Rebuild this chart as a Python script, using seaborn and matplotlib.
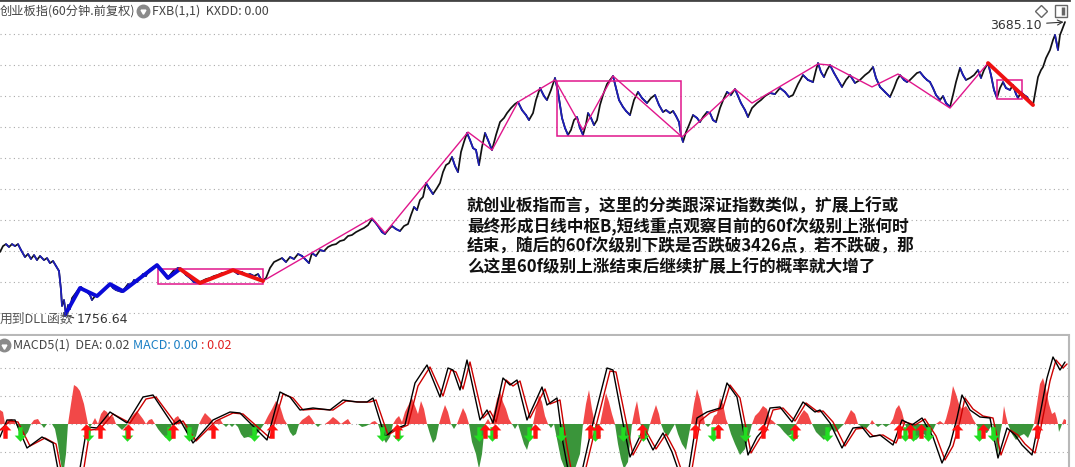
import numpy as np
import pandas as pd
import matplotlib
matplotlib.use("Agg")
import matplotlib.pyplot as plt
from matplotlib.patches import Rectangle
from matplotlib.path import Path
import seaborn as sns

sns.set_theme(style="white")
plt.rcParams["font.family"] = ["Noto Sans CJK SC", "DejaVu Sans"]
plt.rcParams["axes.unicode_minus"] = False

# ---------------- data: 60-minute ChiNext index ----------------
bars = [0,3,6,9,12,15,18,21,25,28,31,34,37,40,44,47,50,53,56,59,61,62,64,66,68,70,72,75,78,81,
        84,87,90,92,95,98,101,104,107,110,113,116,119,122,125,128,131,134,137,140,143,146,149,152,155,158,161,164,167,170,
        174,178,182,186,190,194,198,202,206,210,214,218,222,226,230,234,238,242,246,250,254,258,262,
        266,270,274,278,282,286,290,294,298,302,306,309,312,316,320,324,328,332,336,340,
        344,348,352,356,360,364,368,372,375,378,382,385,389,392,396,400,404,408,411,414,
        417,420,423,426,429,433,437,440,443,446,449,452,455,458,461,464,467,470,473,476,
        479,482,485,488,492,496,500,
        504,507,511,515,518,522,526,529,533,536,540,544,547,551,555,558,560,562,565,568,
        571,574,577,580,583,586,588,591,594,597,600,603,607,610,613,616,619,623,626,630,
        634,638,642,647,651,655,659,663,666,670,673,676,679,681,683,686,689,693,697,700,
        703,707,710,713,716,720,724,727,731,735,738,741,745,748,752,757,761,765,770,775,
        780,785,789,793,798,803,808,813,816,818,821,824,827,830,834,838,842,846,850,855,
        860,865,869,873,876,880,885,890,894,897,900,904,907,910,914,917,920,924,927,930,
        933,936,940,943,946,950,953,956,960,963,966,970,974,978,981,984,988,991,994,997,
        1000,1003,1006,1010,1013,1016,1018,1021,1024,1027,1030,1033,1036,1038,1041,1043,1046,1050,1053,1055,
        1057,1058,1060,1062,1065]
close = [2172,2211,2224,2205,2224,2211,2224,2185,2139,2159,2126,2152,2119,2146,2119,2132,2099,2113,2080,2047,
         1922,1817,1856,1757,1823,1797,1869,1895,1922,1942,1922,1909,1889,1856,1882,1882,1902,1922,1942,1961,
         1935,1922,1915,1909,1935,1961,1955,1988,1974,2001,2027,2014,2053,2067,2080,2080,2053,2040,2001,2021,
         2053,2067,2053,2021,2001,1974,1968,1981,1994,2001,2014,2021,2034,2034,2053,2047,2027,2040,2021,2027,
         2014,2027,1981,
         2001,2067,2106,2119,2132,2106,2139,2126,2159,2146,2119,2099,2165,2146,2185,2178,2205,2218,2224,2244,
         2251,2277,2284,2303,2317,2330,2349,2389,2369,2343,2303,2290,2323,2343,2323,2310,2343,2356,2415,2468,
         2448,2514,2534,2626,2593,2553,2593,2626,2698,2744,2757,2797,2738,2698,2830,2896,2955,2909,2856,2843,
         2744,2863,2955,2909,2843,2942,3027,
         3054,3086,3119,3146,3159,3106,3073,3040,3086,3172,3251,3198,3172,3238,3317,3225,3139,3054,2988,2942,
         2975,3040,3060,2988,2942,3014,3086,3054,3007,3040,3139,3205,3277,3304,3330,3251,3172,3126,3100,3073,
         3172,3225,3185,3152,3185,3205,3139,3093,3106,3086,3100,3067,3027,2942,2896,2961,3007,3073,3054,3027,
         3060,3093,3086,3040,3027,3119,3185,3225,3205,3244,3198,3152,3106,3060,3119,3152,3172,3198,3218,3211,
         3251,3225,3192,3205,3277,3336,3304,3290,3369,3415,3356,3323,3369,3402,3350,3304,3258,3304,3336,3284,
         3304,3336,3356,3389,3317,3258,3225,3192,3251,3304,3336,3304,3290,3304,3330,3350,3356,3323,3304,3290,
         3251,3205,3172,3198,3152,3126,3205,3290,3383,3336,3304,3317,3336,3369,3317,3369,3415,3336,3238,3185,
         3251,3290,3251,3238,3271,3211,3185,3225,3205,3192,3159,3139,3251,3323,3369,3389,3448,3501,3567,3600,
         3534,3501,3600,3633,3685.10]

# zigzag stroke line (magenta)
zz_bar = [263, 372, 385, 468, 492, 518, 555, 583, 613, 682, 710, 735, 752, 818, 830, 872, 898, 950, 988]
zz_price = [1981, 2396, 2297, 2961, 2843, 3159, 3304, 2975, 3330, 2929, 3093, 3244, 3152, 3409, 3402, 3258, 3343, 3119, 3415]
# thick blue strokes
blue_bar = [65, 80, 97, 110, 123, 157, 168, 180]
blue_price = [1757, 1935, 1882, 1961, 1915, 2086, 2001, 2060]
# thick red strokes
red_bar = [180, 200, 233, 263]
red_price = [2060, 1968, 2053, 1981]
red2_bar = [988, 1033]
red2_price = [3415, 3139]
# pivot boxes: (bar_left, bar_right, price_low, price_high)
boxes = [(158, 263, 1961, 2060), (557, 681, 2935, 3297), (997, 1022, 3179, 3304)]
grid_top = [3606, 3402, 3198, 2994, 2790, 2586, 2382, 2178, 1974, 1770]

# MACD panel
hist_points = [(0,1.4),(3,1.2),(5,0),(8,0.4),(12,0.5),(16,0),(20,-1.0),(25,-1.2),(28,-0.8),(31,0),(34,0.4),(38,0.5),(41,0),
 (44,-0.4),(47,0),(52,0),(55,-0.5),(58,-2.0),(60,-3.5),(62,-4.5),(64,-4.5),(66,-3.0),(68,0),(71,2.0),(74,3.9),(77,3.7),
 (80,3.3),(84,2.0),(87,0.5),(88,0),(90,-0.3),(92,0),(95,0.6),(98,0),(101,1.0),(104,1.4),(107,1.2),(110,0.6),(113,0.8),
 (116,0),(119,-0.3),(122,-0.6),(125,-0.3),(128,0),(131,0.6),(134,1.0),(137,1.3),(140,0.9),(143,0.5),(146,0),(149,0.4),
 (152,0.5),(155,0),(158,-0.5),(162,-1.0),(166,-1.4),(169,-1.0),(172,0),(175,0.6),(178,0.8),(181,0.3),(184,0),(187,-1.0),
 (190,-1.5),(193,-1.7),(196,-1.2),(199,0),(202,0.6),(205,1.1),(208,0.8),(211,0.5),(214,0),(217,0.3),(220,0.5),(223,0),
 (226,-0.3),(229,0),(232,-0.3),(235,0),(238,-0.3),(241,-1.0),(244,-1.4),(248,-1.3),(252,-1.4),(256,-1.1),(260,-0.6),
 (264,0),(268,0.8),(272,1.5),(276,2.3),(280,1.8),(284,0.5),(287,0),(290,-0.8),(293,-1.2),(296,-1.0),(299,0),(302,0.4),
 (305,0.6),(309,0.9),(312,0.5),(315,0),(318,-0.3),(321,0),(325,0),(329,0.3),(333,0.7),(337,0.4),(341,0),(345,0.3),
 (348,0.5),(351,0),(355,0),(358,0),(362,-0.3),(366,-0.2),(370,0),(372,0.2),(375,0.3),(378,0),(382,-1.2),(386,-1.9),
 (390,-1.3),(393,0),(396,0.5),(399,0.8),(402,0.2),(405,1.2),(409,2.0),(412,2.6),(415,1.8),(418,1.0),(421,2.3),(424,1.5),
 (427,0),(430,-1.0),(433,-1.9),(436,-1.5),(439,0),(442,1.0),(445,1.9),(448,1.2),(451,0),(454,-0.5),(457,0),(460,0.8),
 (463,1.6),(466,1.0),(469,0),(472,-1.8),(476,-3.0),(479,-4.5),(482,-3.0),(485,0),(488,0.5),(491,0),(494,1.2),(497,2.5),
 (500,3.3),(503,2.2),(506,1.5),(509,0.5),(512,0),(515,-0.5),(518,0),(521,-1.0),(524,-2.0),(527,-2.6),(530,-1.5),(533,0),
 (536,1.5),(539,2.9),(542,2.2),(545,0.8),(548,0),(551,-0.4),(554,0),(557,-1.5),(561,-3.5),(565,-4.5),(570,-4.5),
 (575,-4.5),(580,-3.0),(583,0),(586,2.0),(589,3.4),(592,1.5),(595,0),(597,-0.5),(600,0),(603,1.5),(606,3.1),(609,2.2),
 (612,1.0),(615,0),(618,-2.0),(621,-3.5),(624,-4.5),(628,-3.8),(632,0),(635,1.5),(637,2.3),(640,0.5),(642,-1.0),
 (645,-1.6),(648,-0.8),(650,0),(653,1.0),(656,1.9),(659,1.0),(661,0),(664,-0.8),(668,-1.2),(672,-0.5),(675,0),(678,-1.0),
 (682,-2.0),(686,-2.6),(689,-1.0),(691,0),(694,2.0),(697,3.5),(700,2.5),(703,1.0),(705,0),(708,-0.3),(711,0),(714,0.8),
 (717,1.0),(720,2.6),(723,2.0),(726,0.5),(728,0),(731,-1.0),(735,-2.0),(740,-3.1),(745,-2.5),(749,-1.2),(752,0),
 (755,0.8),(759,1.2),(763,1.8),(767,1.5),(770,0.5),(773,0.3),(776,0),(780,-0.3),(784,-0.8),(788,-1.2),(792,-1.0),
 (796,0),(800,0.8),(804,1.4),(808,1.0),(812,0),(816,-0.8),(820,-1.2),(824,-1.6),(828,-1.0),(832,-0.5),(836,-0.8),
 (840,-0.4),(844,0),(848,0.8),(851,1.4),(855,1.0),(858,0),(862,-0.3),(866,-0.5),(870,0),(872,0.4),(875,0),(878,-0.3),
 (882,0),(886,-0.3),(890,0),(893,0.5),(896,1.5),(899,1.9),(902,1.2),(905,0),(908,-0.8),(912,-1.4),(916,-1.6),(920,-1.2),
 (924,-1.0),(928,-1.6),(932,-0.8),(936,0),(940,0.3),(944,0),(946,0.5),(950,2.0),(953,3.8),(956,3.0),(959,2.0),(962,1.5),
 (966,1.8),(970,1.2),(973,0.5),(976,0),(979,-0.5),(983,-0.8),(987,-0.9),(990,-0.4),(993,0),(996,-2.0),(998,-3.2),
 (1000,-1.0),(1002,0),(1004,1.8),(1006,0.8),(1008,0),(1012,-1.0),(1016,-1.6),(1020,-1.2),(1024,-1.0),(1028,-1.4),
 (1032,-0.5),(1034,0),(1037,2.0),(1040,4.0),(1043,4.6),(1046,3.5),(1049,2.0),(1052,1.0),(1055,1.2),(1057,0.5),(1058,0),
 (1059,-0.8),(1061,-0.3),(1062,0),(1064,0.5),(1066,0.4)]

dif_bar = [0,7,15,27,42,53,60,78,87,97,110,127,143,153,173,180,193,213,230,240,267,280,290,300,313,330,343,357,367,373,
           385,393,405,415,427,440,448,453,460,467,480,487,493,503,510,517,527,542,547,557,563,570,580,592,607,613,623,630,643,653,
           663,672,680,688,697,707,720,727,737,748,757,763,770,780,792,803,815,820,830,842,853,862,870,880,893,902,912,922,933,942,
           950,957,962,970,980,990,998,1007,1015,1022,1032,1037,1047,1053,1060,1065]
dif_val = [-1.3,0.4,0.4,-2.4,-1.3,-1.9,-5.6,-5.6,-0.3,-0.4,1.2,0.1,2.7,2.9,-0.1,0.4,-1.9,0.4,1.2,1.1,
           -1.6,3.2,2.7,1.4,1.6,1.4,2.4,2.2,2.2,2.6,-1.3,-0.6,-0.1,4.1,5.9,2.7,5.6,5.4,3.4,6.4,
           0.4,1.4,0.1,4.6,3.9,4.4,0.4,3.7,1.9,2.6,-1.9,-5.6,-5.6,-0.3,5.6,5.4,0.1,-3.3,-0.6,-2.6,
           -0.9,-2.8,-5.1,-5.1,0.6,1.2,1.6,4.1,2.7,-3.1,-1.3,-0.6,1.6,1.7,0.2,2.2,1.2,1.4,0.1,-2.4,
           -0.4,-0.3,-1.3,-1.1,-2.1,0.4,-0.1,0.6,-1.3,-3.9,-2.1,0.6,2.9,1.4,0.7,0.6,-3.4,-0.4,-1.1,-2.1,
           -3.1,-0.6,4.6,6.7,5.4,6.2]
dea_bar = [0,10,18,30,45,56,63,82,90,100,113,130,146,156,176,183,196,216,233,243,270,283,293,303,316,333,346,360,370,376,
           388,396,408,418,430,443,451,456,463,470,483,490,496,506,513,520,530,545,550,560,566,573,583,595,610,616,626,633,646,656,
           666,675,683,691,700,710,723,730,740,751,760,766,773,783,795,806,818,823,833,845,856,865,873,883,896,905,915,925,936,945,
           953,960,965,973,983,993,1001,1010,1018,1025,1035,1040,1050,1056,1063,1067]
dea_val = [-0.6,0.3,0.2,-2.2,-1.4,-2.0,-5.6,-5.6,-0.6,-0.5,1.0,0.1,2.5,2.7,0.0,0.3,-1.7,0.3,1.1,1.0,
           -1.4,3.0,2.6,1.4,1.5,1.4,2.3,2.2,2.2,2.4,-1.1,-0.6,-0.1,3.8,5.7,2.8,5.4,5.2,3.5,6.2,
           0.6,1.3,0.2,4.4,3.8,4.3,0.6,3.5,2.0,2.4,-1.7,-5.6,-5.6,-0.6,5.3,5.2,0.3,-3.1,-0.7,-2.5,
           -1.0,-2.7,-5.1,-5.1,0.3,1.1,1.6,3.9,2.6,-2.9,-1.4,-0.7,1.4,1.6,0.3,2.1,1.2,1.3,0.2,-2.2,
           -0.5,-0.4,-1.2,-1.1,-1.9,0.2,-0.1,0.5,-1.2,-3.6,-2.2,0.3,2.6,1.5,0.8,0.6,-3.1,-0.6,-1.1,-2.0,
           -2.9,-0.8,4.3,6.4,5.6,6.0]
up_bar = [5, 86, 100, 128, 173, 213, 272, 397, 485, 495, 535, 590, 598, 642, 695, 718, 763, 795, 899, 910, 921, 957, 983, 1037]
down_bar = [20, 88, 127, 169, 189, 254, 382, 398, 479, 492, 529, 561, 595, 623, 643, 713, 745, 793, 827, 905, 913, 928, 979, 993]
grid_macd = [5.6, 2.8, 0.0, -2.8]

annotation = ["就创业板指而言，这里的分类跟深证指数类似，扩展上行或",
              "最终形成日线中枢B,短线重点观察目前的60f次级别上涨何时",
              "结束，随后的60f次级别下跌是否跌破3426点，若不跌破，那",
              "么这里60f级别上涨结束后继续扩展上行的概率就大增了"]

# ---------------- figure ----------------
W, H = 1075, 467
fig = plt.figure(figsize=(W / 100, H / 100), dpi=100)
fig.patch.set_facecolor("white")
ax = fig.add_axes([0, 132 / H, 1069 / W, 335 / H])
ax2 = fig.add_axes([0, 0, 1069 / W, 131 / H])
for a in (ax, ax2):
    a.set_facecolor("white")
    a.set_xlim(0, 1069)
    a.set_xticks([]); a.set_yticks([])
    a.set_xlabel(""); a.set_ylabel("")
ax.set_ylim(1626, 3830)
ax2.set_ylim(-4.3, 8.8)

grid_kw = dict(color="#aaaaaa", lw=0.8, ls=(0, (1, 3)), zorder=0)
for g in grid_top:
    ax.axhline(g, **grid_kw)
for g in grid_macd:
    ax2.axhline(g, **grid_kw)

# spines
for s in ax.spines.values():
    s.set_visible(False)
ax.spines["top"].set_visible(True); ax.spines["top"].set_color("#444444"); ax.spines["top"].set_linewidth(2)
ax.spines["bottom"].set_visible(True); ax.spines["bottom"].set_color("#b8b8b8"); ax.spines["bottom"].set_linewidth(1.5)
for s in ax2.spines.values():
    s.set_visible(False)
ax2.spines["right"].set_visible(True); ax2.spines["right"].set_color("#b8b8b8"); ax2.spines["right"].set_linewidth(1.5)

# price line
df = pd.DataFrame({"bar": bars, "close": close})
sns.lineplot(data=df, x="bar", y="close", color="#111111", lw=1.25, ax=ax, sort=False, estimator=None, zorder=3)
dx, dy = [], []
for i in range(len(df) - 1):
    if df.close[i + 1] < df.close[i]:
        dx += [df.bar[i], df.bar[i + 1], np.nan]
        dy += [df.close[i], df.close[i + 1], np.nan]
ax.plot(dx, dy, color="#1f1fb8", lw=1.25, zorder=3)

# strokes / pivots
sns.lineplot(x=zz_bar, y=zz_price, color="#e0168c", lw=1.0, ax=ax, sort=False, estimator=None, zorder=4)
sns.lineplot(x=blue_bar, y=blue_price, color="#0a0ad8", lw=2.8, ax=ax, sort=False, estimator=None, zorder=5)
sns.lineplot(x=red_bar, y=red_price, color="#ee1111", lw=2.8, ax=ax, sort=False, estimator=None, zorder=5)
sns.lineplot(x=red2_bar, y=red2_price, color="#ee1111", lw=2.8, ax=ax, sort=False, estimator=None, zorder=5)
for (x0, x1, p0, p1) in boxes:
    ax.add_patch(Rectangle((x0, p0), x1 - x0, p1 - p0, fill=False, ec="#e0168c", lw=1.1, zorder=4))

# labels on price panel
hi = df.loc[df.close.idxmax()]
lo = df.loc[df.close.idxmin()]
ax.annotate("3685.10", xy=(hi.bar, hi.close), xytext=(1042, 3665), ha="right", va="center",
            fontsize=9, color="#333333", family=["DejaVu Sans"],
            arrowprops=dict(arrowstyle="->", color="#333333", lw=0.8, shrinkA=1, shrinkB=1))
ax.annotate("1756.64", xy=(lo.bar, lo.close), xytext=(77, 1731), ha="left", va="center",
            fontsize=9, color="#333333", family=["DejaVu Sans"],
            arrowprops=dict(arrowstyle="-", color="#333333", lw=0.8, shrinkA=0, shrinkB=0, relpos=(0, 0.5)))
ax.text(0, 1731, "用到DLL函数", ha="left", va="center", fontsize=9.2, color="#555555", clip_on=False, zorder=6)

for k, line in enumerate(annotation):
    ax.text(467, [2468, 2336, 2205, 2073][k], line, ha="left", va="center", fontsize=12,
            fontweight="bold", color="#111111", zorder=6)

# header texts
tx = ax.get_xaxis_transform()
ax.text(0, 0.968, "创业板指(60分钟.前复权)", transform=tx, ha="left", va="center", fontsize=8.8, color="#444444")
ax.plot([143], [0.968], "o", ms=9, color="#8a8a8a", transform=tx, clip_on=False)
ax.plot([143], [0.966], marker=(3, 0, 180), ms=4, color="white", transform=tx, clip_on=False)
ax.text(152, 0.968, "FXB(1,1)  KXDD: 0.00", transform=tx, ha="left", va="center", fontsize=9, color="#444444")
ax.plot([1041], [0.968], "D", ms=6, mfc="none", mec="#666666", mew=1, transform=tx, clip_on=False)
ax.plot([1061], [0.968], "s", ms=8, mfc="white", mec="#666666", mew=1, transform=tx, clip_on=False)
ax.plot([1063], [0.968], "|", ms=6, mec="#666666", mew=2.5, transform=tx, clip_on=False)

# MACD histogram
hist = pd.DataFrame(hist_points, columns=["bar", "val"])
ax2.fill_between(hist.bar, hist.val, 0, where=hist.val >= 0, interpolate=True, color="#f24848", lw=0, zorder=1)
ax2.fill_between(hist.bar, hist.val, 0, where=hist.val <= 0, interpolate=True, color="#3a953a", lw=0, zorder=1)
sns.lineplot(x=dea_bar, y=dea_val, color="#cc0000", lw=1.0, ax=ax2, sort=False, estimator=None, zorder=3)
sns.lineplot(x=dif_bar, y=dif_val, color="#000000", lw=1.0, ax=ax2, sort=False, estimator=None, zorder=3)

up_arrow = Path([(0, 1), (0.8, 0.15), (0.3, 0.15), (0.3, -1), (-0.3, -1), (-0.3, 0.15), (-0.8, 0.15), (0, 1)], closed=True)
down_arrow = Path([(0, -1), (0.8, -0.15), (0.3, -0.15), (0.3, 1), (-0.3, 1), (-0.3, -0.15), (-0.8, -0.15), (0, -1)], closed=True)
sns.scatterplot(x=down_bar, y=[-1.0] * len(down_bar), marker=down_arrow, s=110, color="#22dd22", linewidth=0, ax=ax2, zorder=4)
sns.scatterplot(x=up_bar, y=[-0.7] * len(up_bar), marker=up_arrow, s=110, color="#ff1111", linewidth=0, ax=ax2, zorder=5)

tx2 = ax2.get_xaxis_transform()
ax2.plot([4], [0.931], "o", ms=9, color="#8a8a8a", transform=tx2, clip_on=False)
ax2.plot([4], [0.925], marker=(3, 0, 180), ms=4, color="white", transform=tx2, clip_on=False)
ax2.text(13, 0.931, "MACD5(1)  DEA: 0.02", transform=tx2, ha="left", va="center", fontsize=9, color="#444444")
ax2.text(133, 0.931, "MACD: 0.00", transform=tx2, ha="left", va="center", fontsize=9, color="#1a7fc4")
ax2.text(201, 0.931, ": 0.02", transform=tx2, ha="left", va="center", fontsize=9, color="#e02020")

for a in (ax, ax2):
    a.set_xlabel(""); a.set_ylabel("")
    if a.get_legend():
        a.get_legend().remove()

fig.savefig("out.png", dpi=100, facecolor="white")
